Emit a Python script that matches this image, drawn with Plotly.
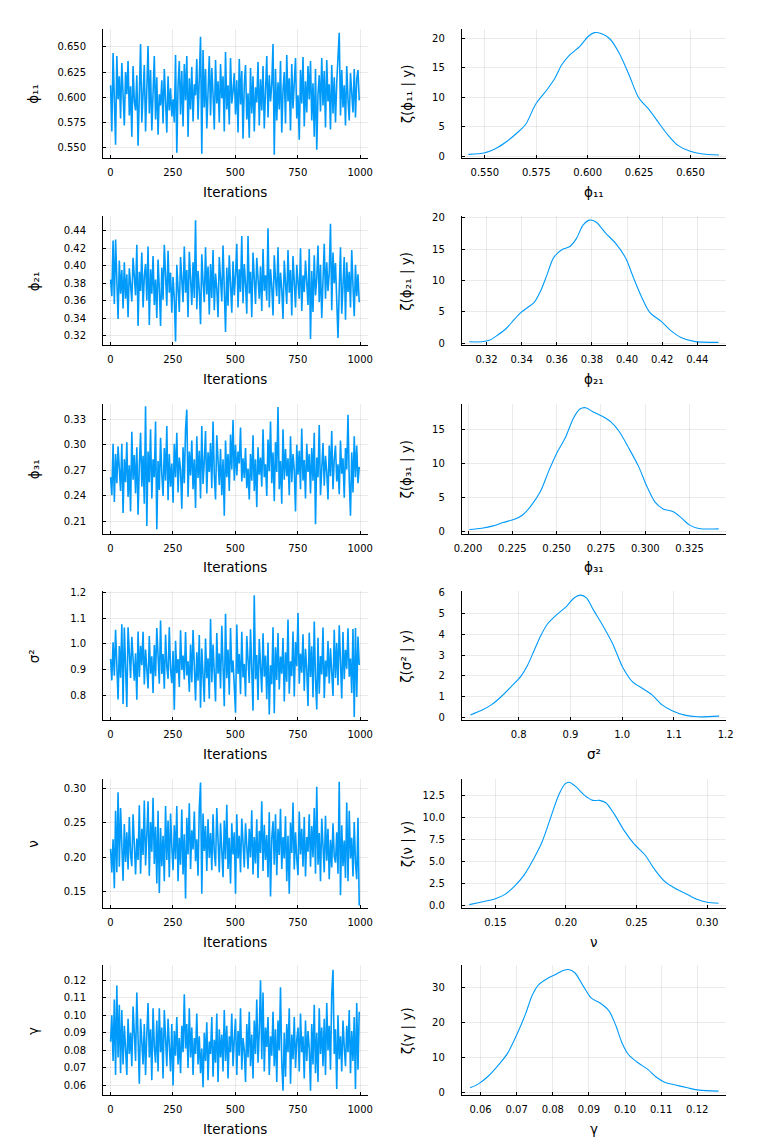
import plotly.graph_objects as go

W, H = 757, 1147

# ---------------- data ----------------
iterations = list(range(1, 1001, 5))

phi11_trace = [
    0.612, 0.566, 0.644, 0.585, 0.553, 0.641, 0.598, 0.621, 0.579, 0.634,
    0.590, 0.572, 0.625, 0.603, 0.636, 0.582, 0.611, 0.561, 0.631, 0.596,
    0.587, 0.622, 0.552, 0.618, 0.653, 0.575, 0.604, 0.632, 0.566, 0.614,
    0.651, 0.584, 0.627, 0.567, 0.609, 0.641, 0.578, 0.620, 0.563, 0.603,
    0.592, 0.617, 0.574, 0.628, 0.596, 0.565, 0.621, 0.587, 0.609, 0.581,
    0.598, 0.575, 0.642, 0.545, 0.612, 0.636, 0.583, 0.626, 0.571, 0.633,
    0.597, 0.641, 0.561, 0.619, 0.588, 0.630, 0.576, 0.613, 0.602, 0.638,
    0.578, 0.625, 0.660, 0.544, 0.647, 0.590, 0.628, 0.569, 0.617, 0.641,
    0.582, 0.629, 0.603, 0.568, 0.637, 0.594, 0.616, 0.575, 0.633, 0.599,
    0.621, 0.566, 0.645, 0.588, 0.612, 0.573, 0.639, 0.594, 0.606, 0.624,
    0.583, 0.617, 0.565, 0.638, 0.593, 0.626, 0.559, 0.612, 0.632, 0.578,
    0.604, 0.560, 0.629, 0.584, 0.621, 0.566, 0.610, 0.595, 0.635, 0.572,
    0.618, 0.587, 0.631, 0.569, 0.606, 0.641, 0.580, 0.622, 0.596, 0.613,
    0.653, 0.543, 0.628, 0.577, 0.615, 0.588, 0.636, 0.565, 0.607, 0.625,
    0.574, 0.642, 0.596, 0.619, 0.567, 0.633, 0.589, 0.611, 0.639, 0.579,
    0.602, 0.558, 0.627, 0.594, 0.640, 0.571, 0.616, 0.585, 0.631, 0.598,
    0.636, 0.577, 0.614, 0.561, 0.628, 0.548, 0.603, 0.622, 0.586, 0.639,
    0.592, 0.626, 0.570, 0.637, 0.596, 0.613, 0.568, 0.632, 0.584, 0.620,
    0.575, 0.615, 0.638, 0.664, 0.582, 0.627, 0.590, 0.612, 0.572, 0.631,
    0.598, 0.577, 0.624, 0.609, 0.585, 0.628, 0.580, 0.618, 0.627, 0.597,
]

phi21_trace = [
    0.384, 0.365, 0.429, 0.356, 0.430, 0.372, 0.339, 0.406, 0.368, 0.395,
    0.351, 0.404, 0.362, 0.390, 0.341, 0.397, 0.375, 0.359, 0.409, 0.382,
    0.366, 0.424, 0.331, 0.393, 0.371, 0.415, 0.352, 0.388, 0.402, 0.360,
    0.422, 0.332, 0.396, 0.368, 0.411, 0.355, 0.384, 0.340, 0.407, 0.373,
    0.331, 0.398, 0.361, 0.424, 0.378, 0.354, 0.417, 0.369, 0.392, 0.346,
    0.387, 0.362, 0.313, 0.401, 0.374, 0.347, 0.410, 0.383, 0.358, 0.422,
    0.369, 0.395, 0.341, 0.416, 0.378, 0.355, 0.404, 0.363, 0.452, 0.350,
    0.394, 0.372, 0.333, 0.413, 0.381, 0.358, 0.421, 0.367, 0.399, 0.344,
    0.402, 0.363, 0.418, 0.349, 0.391, 0.374, 0.341, 0.410, 0.385, 0.359,
    0.423, 0.371, 0.324, 0.398, 0.354, 0.412, 0.383, 0.346, 0.405, 0.366,
    0.390, 0.425, 0.352, 0.396, 0.370, 0.434, 0.357, 0.402, 0.379, 0.345,
    0.434, 0.368, 0.393, 0.341, 0.415, 0.375, 0.356, 0.409, 0.383, 0.362,
    0.399, 0.348, 0.419, 0.371, 0.389, 0.360, 0.443, 0.352, 0.396, 0.376,
    0.343, 0.412, 0.384, 0.365, 0.421, 0.356, 0.392, 0.373, 0.339, 0.406,
    0.380, 0.356, 0.418, 0.369, 0.395, 0.343, 0.411, 0.377, 0.352, 0.401,
    0.384, 0.362, 0.420, 0.348, 0.389, 0.370, 0.406, 0.371, 0.355, 0.419,
    0.316, 0.394, 0.347, 0.412, 0.366, 0.385, 0.423, 0.358, 0.401, 0.340,
    0.398, 0.425, 0.362, 0.404, 0.371, 0.392, 0.448, 0.349, 0.415, 0.380,
    0.403, 0.357, 0.317, 0.374, 0.421, 0.345, 0.388, 0.410, 0.338, 0.404,
    0.370, 0.393, 0.352, 0.418, 0.377, 0.342, 0.401, 0.365, 0.390, 0.358,
]

phi31_trace = [
    0.262, 0.241, 0.301, 0.233, 0.289, 0.255, 0.298, 0.268, 0.246, 0.301,
    0.220, 0.283, 0.256, 0.303, 0.239, 0.276, 0.222, 0.315, 0.259, 0.288,
    0.243, 0.297, 0.218, 0.275, 0.314, 0.251, 0.287, 0.231, 0.345, 0.205,
    0.292, 0.256, 0.318, 0.237, 0.283, 0.262, 0.327, 0.201, 0.281, 0.247,
    0.308, 0.266, 0.240, 0.296, 0.258, 0.322, 0.235, 0.289, 0.251, 0.278,
    0.232, 0.301, 0.262, 0.314, 0.244, 0.285, 0.271, 0.225, 0.297, 0.255,
    0.318, 0.341, 0.239, 0.292, 0.264, 0.305, 0.248, 0.283, 0.226, 0.310,
    0.261, 0.293, 0.237, 0.322, 0.254, 0.280, 0.316, 0.243, 0.291, 0.268,
    0.302, 0.249, 0.327, 0.265, 0.236, 0.311, 0.278, 0.253, 0.295, 0.241,
    0.283, 0.217, 0.305, 0.262, 0.289, 0.246, 0.312, 0.271, 0.329, 0.258,
    0.300, 0.264, 0.292, 0.278, 0.320, 0.257, 0.284, 0.261, 0.296, 0.249,
    0.272, 0.236, 0.289, 0.258, 0.311, 0.246, 0.283, 0.227, 0.297, 0.265,
    0.285, 0.251, 0.318, 0.262, 0.277, 0.240, 0.306, 0.269, 0.327, 0.255,
    0.291, 0.234, 0.303, 0.268, 0.344, 0.248, 0.281, 0.231, 0.318, 0.259,
    0.295, 0.263, 0.284, 0.241, 0.310, 0.256, 0.289, 0.271, 0.222, 0.300,
    0.265, 0.293, 0.248, 0.319, 0.258, 0.282, 0.237, 0.301, 0.268, 0.289,
    0.243, 0.296, 0.258, 0.314, 0.207, 0.285, 0.262, 0.323, 0.241, 0.279,
    0.302, 0.252, 0.287, 0.268, 0.236, 0.299, 0.263, 0.316, 0.248, 0.283,
    0.299, 0.257, 0.277, 0.242, 0.305, 0.266, 0.284, 0.238, 0.296, 0.271,
    0.335, 0.259, 0.217, 0.291, 0.244, 0.310, 0.262, 0.299, 0.255, 0.274,
]

sigma2_trace = [
    0.941, 0.858, 1.006, 0.876, 1.055, 0.903, 0.783, 0.992, 0.868, 1.077,
    0.766, 1.064, 0.889, 0.754, 1.065, 0.932, 0.867, 1.028, 0.921, 0.857,
    0.964, 0.782, 1.048, 0.871, 0.993, 0.917, 1.047, 0.842, 0.978, 0.903,
    0.826, 1.031, 0.884, 0.952, 0.809, 0.996, 0.874, 1.062, 0.913, 0.845,
    1.091, 0.883, 0.961, 0.825, 1.037, 0.912, 0.864, 1.065, 0.903, 0.847,
    0.972, 0.743, 1.012, 0.886, 0.941, 0.832, 1.053, 0.898, 0.955, 0.861,
    1.046, 0.877, 0.932, 0.814, 0.998, 0.851, 1.054, 0.902, 0.779, 0.967,
    0.857, 1.035, 0.751, 0.982, 0.892, 0.774, 1.021, 0.866, 0.944, 0.786,
    1.097, 0.851, 0.998, 0.906, 0.776, 1.043, 0.884, 0.963, 0.826, 1.071,
    0.903, 0.757, 1.118, 0.866, 0.978, 0.802, 1.062, 0.889, 0.935, 0.841,
    0.732, 1.076, 0.883, 0.961, 0.804, 1.047, 0.869, 0.922, 0.795, 1.031,
    0.912, 0.848, 1.057, 0.879, 0.740, 1.190, 0.862, 0.957, 0.781, 1.019,
    0.894, 0.811, 1.042, 0.872, 0.955, 0.784, 1.006, 0.725, 0.917, 0.843,
    1.065, 0.730, 0.987, 0.859, 1.043, 0.822, 0.951, 0.884, 1.023, 0.776,
    0.967, 0.853, 1.095, 0.806, 0.932, 0.874, 1.048, 0.795, 1.007, 0.913,
    1.121, 0.845, 0.962, 0.888, 1.038, 0.817, 0.981, 0.902, 0.758, 1.044,
    0.871, 0.991, 0.792, 1.087, 0.862, 0.744, 1.024, 0.806, 0.953, 0.881,
    1.064, 0.789, 0.935, 0.872, 1.011, 0.846, 0.983, 0.892, 0.797, 1.055,
    0.867, 1.004, 0.839, 1.073, 0.904, 0.787, 1.046, 0.862, 0.977, 0.903,
    1.061, 0.872, 0.943, 0.809, 1.058, 0.715, 1.062, 0.793, 1.029, 0.918,
]

nu_trace = [
    0.212, 0.178, 0.226, 0.155, 0.267, 0.178, 0.294, 0.186, 0.271, 0.200,
    0.166, 0.248, 0.193, 0.236, 0.182, 0.258, 0.204, 0.187, 0.262, 0.219,
    0.175, 0.227, 0.196, 0.275, 0.176, 0.241, 0.203, 0.282, 0.188, 0.232,
    0.281, 0.173, 0.251, 0.208, 0.286, 0.190, 0.244, 0.162, 0.267, 0.148,
    0.242, 0.187, 0.231, 0.165, 0.274, 0.196, 0.253, 0.171, 0.263, 0.215,
    0.181, 0.246, 0.197, 0.274, 0.165, 0.228, 0.189, 0.269, 0.175, 0.233,
    0.140, 0.257, 0.204, 0.278, 0.183, 0.239, 0.211, 0.266, 0.194, 0.226,
    0.173, 0.271, 0.308, 0.147, 0.263, 0.209, 0.245, 0.180, 0.255, 0.199,
    0.235, 0.181, 0.262, 0.207, 0.187, 0.271, 0.221, 0.178, 0.249, 0.214,
    0.171, 0.253, 0.197, 0.276, 0.183, 0.228, 0.162, 0.249, 0.204, 0.236,
    0.147, 0.262, 0.198, 0.231, 0.178, 0.256, 0.207, 0.185, 0.249, 0.215,
    0.183, 0.241, 0.200, 0.268, 0.175, 0.229, 0.191, 0.255, 0.170, 0.238,
    0.206, 0.281, 0.180, 0.247, 0.196, 0.232, 0.171, 0.265, 0.143, 0.227,
    0.252, 0.189, 0.262, 0.174, 0.241, 0.203, 0.270, 0.183, 0.229, 0.198,
    0.259, 0.165, 0.231, 0.147, 0.250, 0.206, 0.279, 0.182, 0.236, 0.198,
    0.174, 0.266, 0.204, 0.241, 0.186, 0.258, 0.172, 0.229, 0.208, 0.262,
    0.186, 0.245, 0.200, 0.271, 0.176, 0.302, 0.189, 0.235, 0.165, 0.256,
    0.212, 0.178, 0.260, 0.195, 0.241, 0.168, 0.225, 0.185, 0.249, 0.201,
    0.192, 0.236, 0.176, 0.309, 0.145, 0.246, 0.187, 0.224, 0.170, 0.279,
    0.165, 0.267, 0.198, 0.228, 0.172, 0.251, 0.191, 0.168, 0.257, 0.130,
]

gamma_trace = [
    0.085, 0.100, 0.074, 0.109, 0.066, 0.117, 0.076, 0.106, 0.067, 0.103,
    0.072, 0.094, 0.081, 0.066, 0.098, 0.078, 0.090, 0.071, 0.105, 0.087,
    0.074, 0.113, 0.079, 0.061, 0.098, 0.083, 0.072, 0.095, 0.066, 0.089,
    0.107, 0.076, 0.092, 0.063, 0.104, 0.082, 0.073, 0.097, 0.068, 0.104,
    0.079, 0.093, 0.064, 0.103, 0.085, 0.071, 0.098, 0.082, 0.068, 0.095,
    0.060, 0.091, 0.077, 0.099, 0.072, 0.087, 0.067, 0.094, 0.079, 0.112,
    0.081, 0.095, 0.070, 0.104, 0.076, 0.093, 0.066, 0.087, 0.078, 0.101,
    0.072, 0.088, 0.067, 0.081, 0.059, 0.090, 0.074, 0.096, 0.063, 0.085,
    0.078, 0.099, 0.065, 0.086, 0.073, 0.101, 0.062, 0.092, 0.076, 0.089,
    0.068, 0.103, 0.074, 0.094, 0.064, 0.088, 0.079, 0.101, 0.071, 0.086,
    0.098, 0.066, 0.091, 0.077, 0.104, 0.069, 0.087, 0.080, 0.062, 0.095,
    0.076, 0.102, 0.071, 0.089, 0.064, 0.097, 0.078, 0.109, 0.073, 0.091,
    0.120, 0.075, 0.113, 0.068, 0.093, 0.082, 0.099, 0.066, 0.088, 0.077,
    0.102, 0.071, 0.092, 0.062, 0.097, 0.080, 0.116, 0.073, 0.057, 0.090,
    0.065, 0.095, 0.079, 0.104, 0.061, 0.089, 0.075, 0.099, 0.070, 0.086,
    0.093, 0.068, 0.101, 0.079, 0.088, 0.064, 0.097, 0.074, 0.091, 0.081,
    0.057, 0.095, 0.072, 0.106, 0.067, 0.090, 0.062, 0.104, 0.078, 0.093,
    0.071, 0.098, 0.066, 0.107, 0.080, 0.094, 0.069, 0.112, 0.126, 0.078,
    0.092, 0.058, 0.100, 0.075, 0.088, 0.068, 0.097, 0.082, 0.071, 0.094,
    0.079, 0.103, 0.067, 0.091, 0.074, 0.099, 0.058, 0.107, 0.069, 0.102,
]

phi11_dens_x = [0.542, 0.550, 0.5564, 0.5611, 0.5659, 0.5699, 0.5747, 0.5803, 0.5842,
                0.5874, 0.5914, 0.5962, 0.6002, 0.6033, 0.6065, 0.6105, 0.6153, 0.6201,
                0.6248, 0.6296, 0.6344, 0.6392, 0.6439, 0.6495, 0.6551, 0.6639]
phi11_dens_y = [0.28, 0.56, 1.5, 2.6, 4.0, 5.4, 8.8, 11.3, 13.3,
                15.5, 17.2, 18.6, 20.3, 20.95, 20.8, 20.0, 17.5, 13.8,
                9.9, 8.0, 5.7, 3.5, 1.8, 0.84, 0.39, 0.17]

phi21_dens_x = [0.3101, 0.3172, 0.3219, 0.3265, 0.3312, 0.3358, 0.3395, 0.3433, 0.3470,
                0.3507, 0.3544, 0.3581, 0.3628, 0.3674, 0.3712, 0.3749, 0.3786, 0.3823,
                0.3879, 0.3935, 0.3991, 0.4037, 0.4084, 0.4130, 0.4195, 0.4251, 0.4307,
                0.4381, 0.4521]
phi21_dens_y = [0.26, 0.26, 0.53, 1.37, 2.37, 3.84, 4.9, 5.7, 6.5,
                8.3, 10.9, 13.6, 14.9, 15.4, 16.7, 18.8, 19.6, 19.3,
                17.5, 15.9, 13.6, 10.4, 7.3, 4.9, 3.5, 2.0, 0.95,
                0.32, 0.16]

phi31_dens_x = [0.2007, 0.2077, 0.2142, 0.2197, 0.2262, 0.2308, 0.2354, 0.2409, 0.2455,
                0.2501, 0.2548, 0.2594, 0.2631, 0.2664, 0.2704, 0.2760, 0.2806, 0.2852,
                0.2907, 0.2962, 0.3008, 0.3055, 0.3101, 0.3156, 0.3202, 0.3248, 0.3303,
                0.3414]
phi31_dens_y = [0.25, 0.44, 0.78, 1.27, 1.76, 2.4, 3.7, 5.9, 8.9,
                11.6, 13.8, 16.7, 18.1, 18.3, 17.7, 17.0, 16.2, 14.8,
                12.3, 9.6, 6.7, 4.3, 3.3, 2.9, 2.0, 0.93, 0.39,
                0.34]

sigma2_dens_x = [0.7065, 0.7285, 0.7475, 0.7665, 0.7855, 0.8044, 0.8171, 0.8298, 0.8425,
                 0.8551, 0.8741, 0.8930, 0.9058, 0.9196, 0.9310, 0.9437, 0.9627, 0.9817,
                 1.0006, 1.0196, 1.0386, 1.0576, 1.0765, 1.0955, 1.1207, 1.1460, 1.1872]
sigma2_dens_y = [0.14, 0.36, 0.63, 1.02, 1.49, 1.99, 2.51, 3.22, 3.92,
                 4.47, 4.94, 5.34, 5.70, 5.86, 5.73, 5.18, 4.40, 3.53,
                 2.43, 1.73, 1.41, 1.10, 0.63, 0.35, 0.13, 0.05, 0.08]

nu_dens_x = [0.1315, 0.1403, 0.1495, 0.1565, 0.1634, 0.1704, 0.1773, 0.1831, 0.1889,
             0.1947, 0.1993, 0.2023, 0.2074, 0.2132, 0.2190, 0.2236, 0.2282, 0.2340,
             0.2410, 0.2479, 0.2560, 0.2630, 0.2699, 0.2769, 0.2850, 0.2931, 0.3000,
             0.3081]
nu_dens_y = [0.11, 0.41, 0.75, 1.24, 2.18, 3.49, 5.37, 7.24, 9.87,
             12.5, 13.81, 14.0, 13.44, 12.5, 11.94, 11.94, 11.67, 10.44,
             8.56, 7.06, 5.74, 4.05, 2.74, 1.99, 1.35, 0.68, 0.38,
             0.26]

gamma_dens_x = [0.0571, 0.0594, 0.0621, 0.0648, 0.0675, 0.0702, 0.0725, 0.0743, 0.0761,
                0.0784, 0.0806, 0.0829, 0.0843, 0.0861, 0.0883, 0.0906, 0.0933, 0.0956,
                0.0974, 0.0992, 0.1010, 0.1037, 0.1064, 0.1087, 0.1110, 0.1137, 0.1173,
                0.1205, 0.1259]
gamma_dens_y = [1.24, 2.38, 4.57, 7.62, 11.24, 16.95, 22.67, 27.9, 30.95,
                32.67, 33.81, 35.05, 35.33, 34.38, 30.76, 27.14, 25.52, 23.33,
                19.33, 14.1, 10.76, 8.38, 6.48, 4.29, 2.86, 2.1, 1.24,
                0.57, 0.29]

param_names = ["ϕ₁₁", "ϕ₂₁", "ϕ₃₁", "σ²", "ν", "γ"]
traces = [phi11_trace, phi21_trace, phi31_trace, sigma2_trace, nu_trace, gamma_trace]
dens_xs = [phi11_dens_x, phi21_dens_x, phi31_dens_x, sigma2_dens_x, nu_dens_x, gamma_dens_x]
dens_ys = [phi11_dens_y, phi21_dens_y, phi31_dens_y, sigma2_dens_y, nu_dens_y, gamma_dens_y]

iter_ticks = [0, 250, 500, 750, 1000]
trace_ticks = [
    [0.550, 0.575, 0.600, 0.625, 0.650],
    [0.32, 0.34, 0.36, 0.38, 0.40, 0.42, 0.44],
    [0.21, 0.24, 0.27, 0.30, 0.33],
    [0.8, 0.9, 1.0, 1.1, 1.2],
    [0.15, 0.20, 0.25, 0.30],
    [0.06, 0.07, 0.08, 0.09, 0.10, 0.11, 0.12],
]
dens_xticks = [
    [0.550, 0.575, 0.600, 0.625, 0.650],
    [0.32, 0.34, 0.36, 0.38, 0.40, 0.42, 0.44],
    [0.200, 0.225, 0.250, 0.275, 0.300, 0.325],
    [0.8, 0.9, 1.0, 1.1, 1.2],
    [0.15, 0.20, 0.25, 0.30],
    [0.06, 0.07, 0.08, 0.09, 0.10, 0.11, 0.12],
]
dens_yticks = [
    [0, 5, 10, 15, 20],
    [0, 5, 10, 15, 20],
    [0, 5, 10, 15],
    [0, 1, 2, 3, 4, 5, 6],
    [0.0, 2.5, 5.0, 7.5, 10.0, 12.5],
    [0, 10, 20, 30],
]

# ---------------- layout config ----------------
trace_fmt = [".3f", ".2f", ".2f", ".1f", ".2f", ".2f"]
dxfmt = [".3f", ".2f", ".3f", ".1f", ".2f", ".2f"]
dyfmt = ["d", "d", "d", "d", ".1f", "d"]
trace_yrange = [[0.540, 0.668], [0.3087, 0.4566], [0.1961, 0.3478],
                [0.702, 1.205], [0.1266, 0.3133], [0.0543, 0.1285]]
dens_xrange = [[0.5388, 0.6675], [0.3059, 0.4566], [0.1965, 0.3458],
               [0.690, 1.2015], [0.1262, 0.3137], [0.0548, 0.1281]]
dens_yrange = [[-0.3, 21.6], [-0.3, 20.2], [-0.35, 18.87],
               [-0.12, 6.04], [-0.26, 14.38], [-0.94, 36.5]]

row_top = [24, 213, 402, 591, 780, 968]
row_bot = [154, 343, 532.7, 721, 910, 1099]
left_px = (97, 367)
right_px = (463, 733)

BLUE = "#009AFA"
FONT = "DejaVu Sans"
TICKFONT = dict(family=FONT, size=10, color="#000000")
TITLEFONT = dict(family=FONT, size=13.5, color="#000000")


def fmt(v, f):
    return format(int(round(v)), "d") if f == "d" else format(v, f)


def axis_common():
    return dict(showline=True, linecolor="#000000", linewidth=1, mirror=False,
                showgrid=True, gridcolor="rgba(0,0,0,0.10)", gridwidth=0.8,
                zeroline=False, ticks="inside", ticklen=3, tickcolor="#000000",
                tickwidth=1, tickfont=TICKFONT, fixedrange=True)


fig = go.Figure()
layout = {}
annotations = []

for r in range(6):
    ia = 2 * r + 1  # trace axes
    ib = 2 * r + 2  # density axes
    ydom = [1 - row_bot[r] / H, 1 - row_top[r] / H]
    xdom_l = [left_px[0] / W, left_px[1] / W]
    xdom_r = [right_px[0] / W, right_px[1] / W]

    fig.add_trace(go.Scatter(x=iterations, y=traces[r], mode="lines",
                             line=dict(color=BLUE, width=1.6),
                             xaxis=f"x{ia}", yaxis=f"y{ia}", showlegend=False))
    fig.add_trace(go.Scatter(x=dens_xs[r], y=dens_ys[r], mode="lines",
                             line=dict(color=BLUE, width=1.1, shape="spline", smoothing=0.8),
                             xaxis=f"x{ib}", yaxis=f"y{ib}", showlegend=False))

    xa = axis_common()
    xa.update(domain=xdom_l, anchor=f"y{ia}", range=[-29, 1030],
              tickvals=iter_ticks, ticktext=[str(t) for t in iter_ticks],
              ticklabelstandoff=5)
    ya = axis_common()
    ya.update(domain=ydom, anchor=f"x{ia}", range=trace_yrange[r],
              tickvals=trace_ticks[r], ticktext=[fmt(t, trace_fmt[r]) for t in trace_ticks[r]],
              ticklabelstandoff=14)
    xb = axis_common()
    xb.update(domain=xdom_r, anchor=f"y{ib}", range=dens_xrange[r],
              tickvals=dens_xticks[r], ticktext=[fmt(t, dxfmt[r]) for t in dens_xticks[r]],
              ticklabelstandoff=5)
    yb = axis_common()
    yb.update(domain=ydom, anchor=f"x{ib}", range=dens_yrange[r],
              tickvals=dens_yticks[r], ticktext=[fmt(t, dyfmt[r]) for t in dens_yticks[r]],
              ticklabelstandoff=14)

    layout[f"xaxis{ia}"] = xa
    layout[f"yaxis{ia}"] = ya
    layout[f"xaxis{ib}"] = xb
    layout[f"yaxis{ib}"] = yb

    ymid = 1 - (row_top[r] + row_bot[r]) / 2 / H
    ytitle = 1 - (row_bot[r] + 34) / H
    name = param_names[r]
    annotations += [
        dict(text="Iterations", x=(left_px[0] + left_px[1]) / 2 / W, y=ytitle),
        dict(text=name, x=(right_px[0] + right_px[1]) / 2 / W, y=ytitle),
        dict(text=name, x=26 / W, y=ymid, textangle=-90),
        dict(text=f"ζ({name} | y)", x=407 / W, y=ymid, textangle=-90),
    ]

for a in annotations:
    a.update(xref="paper", yref="paper", xanchor="center", yanchor="middle",
             showarrow=False, font=TITLEFONT)

fig.update_layout(width=W, height=H, margin=dict(l=0, r=0, t=0, b=0),
                  paper_bgcolor="#ffffff", plot_bgcolor="#ffffff",
                  annotations=annotations, **layout)

fig.write_html(
    "out.html",
    config={"displayModeBar": False, "staticPlot": True},
    post_script=(
        "document.documentElement.style.margin='0';"
        "document.documentElement.style.overflow='hidden';"
        "document.body.style.margin='0';"
        "document.body.style.overflow='hidden';"
        "var d=document.getElementById('{plot_id}');"
        "d.style.position='fixed';d.style.left='0px';d.style.top='0px';"
    ),
)
